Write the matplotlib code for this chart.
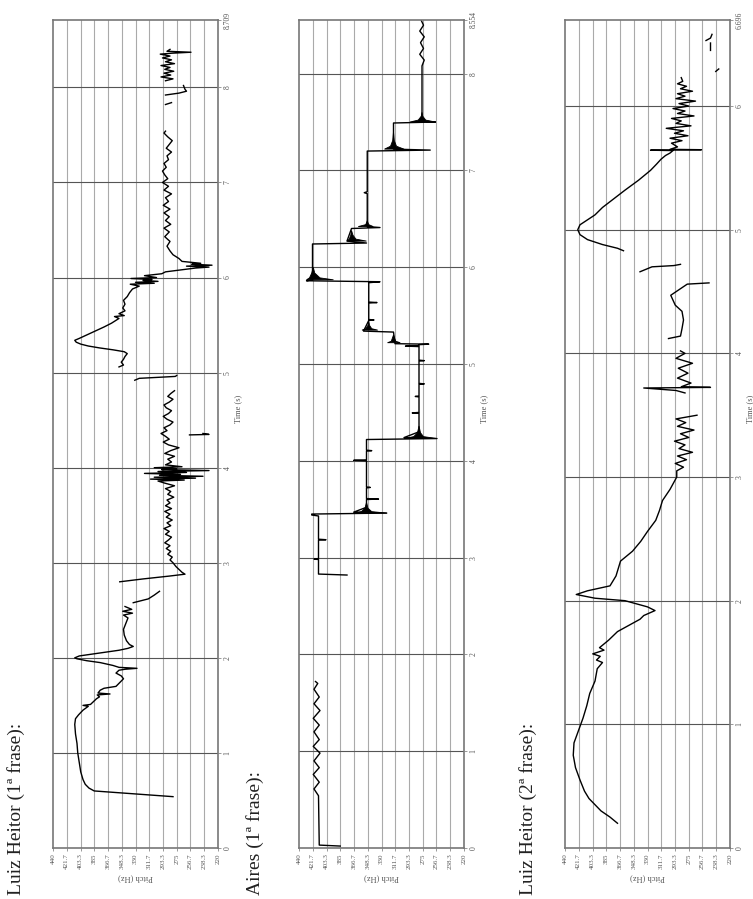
import matplotlib.pyplot as plt

plt.rcParams['font.family'] = ['Liberation Serif', 'DejaVu Serif']

nan = float('nan')

pitch_ticks = [440, 421.7, 403.3, 385, 366.7, 348.3, 330, 311.7, 293.3, 275,
               256.7, 238.3, 220]
pitch_labels = ['440', '421.7', '403.3', '385', '366.7', '348.3', '330',
                '311.7', '293.3', '275', '256.7', '238.3', '220']

titles = ['Luiz Heitor (1ª frase):', 'Aires (1ª frase):',
          'Luiz Heitor (2ª frase):']
durations = [8.709, 8.554, 6.696]

# Luiz Heitor, 1st phrase (time s, pitch Hz), nan = unvoiced gap
heitor1_t = [0.54, 0.56, 0.58, 0.60, 0.63, 0.67, 0.72, 0.80, 0.90, 1.00, 1.10,
             1.20, 1.30, 1.36, 1.40, 1.45, 1.49, 1.50, 1.51, 1.54, 1.57, 1.59,
             1.61, 1.62, 1.63, 1.66, 1.68, 1.70, 1.74, 1.78, 1.81, 1.84, 1.87,
             1.88, 1.89, 1.90, 1.92, 1.95, 1.97, 1.99, 2.00, 2.02, 2.05, 2.08,
             2.10, 2.12, 2.14, 2.18, 2.24, 2.30, 2.36, 2.42, 2.45, 2.47, 2.49,
             2.51, 2.54, nan,
             2.58, 2.62, 2.66, 2.70, nan,
             2.80, 2.83, 2.86, 2.88, 2.90, 2.93, 2.96, 3.00, 3.03, 3.06, 3.09,
             3.12, 3.15, 3.18, 3.21, 3.24, 3.27, 3.30, 3.33, 3.36, 3.39, 3.42,
             3.45, 3.48, 3.51, 3.54, 3.57, 3.60, 3.63, 3.66, 3.69, 3.72, 3.75,
             3.78, 3.81, 3.84, 3.86, 3.87, 3.88, 3.89, 3.90, 3.91, 3.92, 3.93,
             3.94, 3.95, 3.96, 3.97, 3.98, 3.99, 4.00, 4.01, 4.03, 4.06, 4.09,
             4.12, 4.15, 4.18, 4.21, 4.24, 4.27, 4.30, 4.33, 4.36, 4.39, 4.42,
             4.45, 4.48, 4.51, 4.54, 4.57, 4.60, 4.63, 4.66, 4.69, 4.72, 4.75,
             4.78, 4.81, nan,
             4.345, 4.35, 4.36, nan,
             4.92, 4.94, 4.95, 4.96, 4.97, nan,
             5.06, 5.08, 5.11, 5.14, 5.17, 5.20, 5.22, 5.24, 5.26, 5.28, 5.30,
             5.32, 5.34, 5.36, 5.40, 5.44, 5.48, 5.52, 5.55, 5.57, 5.59, 5.60,
             5.62, 5.65, 5.68, 5.72, 5.76, 5.80, 5.84, 5.88, 5.91, 5.93, 5.94,
             5.95, 5.96, 5.97, 5.98, 5.99, 6.00, 6.02, 6.04, 6.06, 6.08, 6.10,
             6.11, 6.12, 6.13, 6.14, 6.15, 6.17, 6.20, 6.24, 6.28, 6.33, 6.38,
             6.43, 6.48, 6.52, 6.56, 6.60, 6.64, 6.68, 6.72, 6.76, 6.80, 6.84,
             6.88, 6.92, 6.96, 7.00, 7.04, 7.08, 7.12, 7.16, 7.20, 7.24, 7.28,
             7.32, 7.36, 7.40, 7.44, 7.48, 7.52, 7.54, nan,
             7.82, 7.84, nan,
             7.92, 7.94, 7.96, 7.98, 8.02, nan,
             8.07, 8.09, 8.11, 8.13, 8.15, 8.17, 8.19, 8.21, 8.23, 8.25, 8.27,
             8.29, 8.31, 8.33, 8.35, 8.36, 8.37, 8.38, 8.40]
heitor1_hz = [280, 315, 350, 385, 392, 397, 400, 403, 405, 407, 408,
              410, 411, 410, 406, 400, 393, 400, 390, 386, 382, 378,
              381, 364, 380, 377, 372, 356, 351, 346, 349, 356, 352,
              344, 328, 352, 360, 377, 395, 408, 411, 405, 378, 352,
              340, 333, 338, 342, 345, 346, 343, 340, 346, 334, 347,
              335, 344, nan,
              333, 313, 305, 298, nan,
              351, 320, 285, 264, 268, 272, 276, 280, 284, 281, 287,
              283, 289, 284, 291, 286, 282, 290, 285, 292, 283, 288,
              281, 289, 284, 291, 282, 290, 284, 288, 279, 287, 283,
              290, 278, 292, 300, 265, 310, 250, 305, 240, 298, 270,
              318, 262, 300, 232, 295, 275, 305, 268, 290, 282, 287,
              278, 291, 283, 272, 286, 293, 285, 290, 296, 288, 292,
              284, 280, 288, 293, 286, 282, 289, 292, 285, 280, 287,
              283, 278, nan,
              258, 232, 240, nan,
              331, 325, 300, 277, 275, nan,
              352, 346, 349, 346, 344, 341, 345, 360, 378, 393, 403,
              409, 411, 405, 394, 383, 372, 362, 356, 352, 358, 345,
              352, 344, 347, 344, 346, 341, 338, 334, 325, 337, 305,
              330, 300, 320, 308, 336, 302, 318, 295, 290, 270, 250,
              232, 262, 228, 255, 243, 268, 272, 280, 284, 288, 284,
              291, 285, 292, 283, 290, 285, 292, 284, 293, 286, 290,
              282, 292, 286, 294, 287, 291, 294, 289, 292, 286, 288,
              282, 289, 285, 281, 287, 292, 290, nan,
              290, 282, nan,
              290, 272, 262, 264, 266, nan,
              290, 280, 296, 283, 292, 279, 291, 284, 296, 278, 290,
              282, 294, 284, 297, 281, 256, 288, 284]

# Aires, 1st phrase
aires_t = [0.02, 0.03, 0.54, 0.61, 0.68, 0.76, 0.83, 0.90, 0.98, 1.05, 1.12,
           1.20, 1.27, 1.34, 1.42, 1.49, 1.56, 1.64, 1.70, 1.72, nan,
           2.82, 2.83, 2.98, 2.985, 2.99, 3.18, 3.185, 3.19, 3.43, 3.44, 3.45,
           3.46, 3.47, 3.52, 3.60, 3.605, 3.61, 3.72, 3.725, 3.73, 4.00, 4.005,
           4.01, 4.10, 4.105, 4.11, 4.22, 4.23, 4.24, 4.30, 4.49, 4.495, 4.50,
           4.66, 4.665, 4.67, 4.79, 4.795, 4.80, 5.03, 5.035, 5.04, 5.18,
           5.185, 5.19, 5.20, 5.205, 5.21, 5.33, 5.34, 5.45, 5.455, 5.46,
           5.63, 5.635, 5.64, 5.84, 5.85, 5.86, 5.87, 6.24, 6.25, 6.27, 6.40,
           6.41, 6.42, 6.76, 6.77, 6.78, 7.20, 7.21, 7.22, 7.49, 7.50, 7.51,
           8.08, 8.14, 8.20, 8.26, 8.32, 8.38, 8.44, 8.50, 8.55]
aires_hz = [385, 413, 414, 420, 413, 421, 413, 420, 412, 421, 413,
            420, 413, 421, 412, 420, 413, 420, 415, 418, nan,
            376, 414, 414, 420, 414, 414, 404, 414, 414, 423, 423,
            323, 367, 350, 350, 334, 350, 350, 345, 350, 350, 367,
            350, 350, 343, 350, 350, 256, 300, 280, 280, 289, 280,
            280, 285, 280, 280, 273, 280, 280, 273, 280, 280,
            298, 280, 280, 267, 312, 314, 354, 347, 340, 347,
            347, 336, 347, 347, 332, 430, 422, 422, 350, 376, 370,
            332, 349, 349, 353, 349, 349, 265, 314, 314, 258, 276,
            276, 273, 279, 274, 278, 273, 279, 274, 277]

# decaying vibrato onsets drawn as filled wedges: (pitch, time) vertices
aires_blobs = [
    [(323, 3.46), (343, 3.475), (348, 3.51), (350, 3.57), (352, 3.51),
     (357, 3.475), (367, 3.46)],
    [(256, 4.23), (274, 4.25), (278, 4.29), (280, 4.36), (282, 4.29),
     (287, 4.25), (300, 4.23)],
    [(305, 5.22), (311, 5.235), (314, 5.30), (317, 5.235), (322, 5.22)],
    [(335, 5.35), (343, 5.365), (346, 5.40), (347, 5.45), (348, 5.40),
     (351, 5.365), (356, 5.35)],
    [(394, 5.87), (412, 5.89), (419, 5.94), (421, 6.00), (423, 5.94),
     (426, 5.89), (430, 5.87)],
    [(350, 6.27), (364, 6.29), (368, 6.33), (370, 6.38), (371, 6.33),
     (373, 6.29), (376, 6.27)],
    [(341, 6.42), (347, 6.44), (349, 6.48), (351, 6.44), (361, 6.42)],
    [(300, 7.22), (310, 7.25), (313, 7.31), (314, 7.40), (315, 7.31),
     (318, 7.25), (326, 7.22)],
    [(258, 7.50), (271, 7.52), (275, 7.56), (276, 7.60), (277, 7.56),
     (281, 7.52), (292, 7.50)],
]

# Luiz Heitor, 2nd phrase
heitor2_t = [0.20, 0.25, 0.30, 0.35, 0.40, 0.46, 0.55, 0.65, 0.75, 0.85, 0.95,
             1.05, 1.15, 1.25, 1.35, 1.45, 1.50, 1.52, 1.55, 1.57, 1.60, 1.62,
             1.68, 1.75, 1.80, 1.85, 1.88, 1.92, 1.95, 2.00, 2.02, 2.05, 2.08,
             2.12, 2.20, 2.32, 2.40, 2.48, 2.56, 2.65, 2.73, 2.81, 2.90, 3.00,
             3.05, 3.08, 3.11, 3.14, 3.17, 3.20, 3.23, 3.26, 3.29, 3.32, 3.35,
             3.38, 3.41, 3.44, 3.47, 3.50, nan,
             3.68, 3.70, 3.72, 3.725, 3.73, 3.76, 3.80, 3.84, 3.88, 3.92, 3.96,
             4.00, 4.02, nan,
             4.12, 4.14, 4.20, 4.27, 4.34, 4.39, 4.47, 4.56, 4.57, nan,
             4.66, 4.70, 4.71, 4.72, nan,
             4.83, 4.85, 4.88, 4.92, 4.96, 5.00, 5.04, 5.08, 5.12, 5.18, 5.25,
             5.32, 5.40, 5.48, 5.53, 5.57, 5.60, 5.62, 5.64, 5.643, 5.647,
             5.65, 5.67, 5.70, 5.72, 5.74, 5.76, 5.78, 5.80, 5.82, 5.84, 5.86,
             5.88, 5.90, 5.92, 5.94, 5.96, 5.98, 6.00, 6.02, 6.04, 6.06, 6.08,
             6.10, 6.12, 6.14, 6.16, 6.18, 6.20, 6.23, nan,
             6.28, 6.30, nan,
             6.45, 6.51, nan,
             6.53, 6.55, 6.58]
heitor2_hz = [370, 380, 392, 400, 408, 414, 420, 426, 429, 428, 422,
              416, 411, 407, 400, 397, 390, 398, 393, 403, 388, 394,
              382, 370, 355, 340, 335, 320, 330, 360, 400, 425, 410,
              380, 372, 366, 350, 339, 330, 319, 314, 310, 300, 291,
              291, 282, 293, 278, 290, 270, 288, 280, 294, 275, 286,
              268, 290, 279, 292, 264, nan,
              280, 292, 335, 246, 285, 272, 290, 276, 289, 270, 292,
              280, 286, nan,
              302, 286, 284, 282, 284, 293, 299, 277, 248, nan,
              340, 324, 295, 286, nan,
              362, 370, 390, 410, 420, 423, 420, 410, 400, 390, 375,
              360, 342, 326, 318, 312, 306, 300, 296, 326, 258,
              300, 290, 298, 284, 300, 276, 294, 282, 305, 272, 292,
              285, 298, 268, 290, 280, 296, 275, 288, 266, 292, 280,
              290, 270, 286, 278, 290, 283, 285, nan,
              239, 235, nan,
              246, 246, nan,
              252, 246, 244]

tracks = [(heitor1_t, heitor1_hz), (aires_t, aires_hz),
          (heitor2_t, heitor2_hz)]
blobs = [[], aires_blobs, []]

fig = plt.figure(figsize=(7.53, 8.99), dpi=100)
W, H = 753, 899
lefts = [53, 299, 565]
for i in range(3):
    ax = fig.add_axes([lefts[i] / W, (H - 848) / H, 165 / W, (848 - 20) / H])
    t, hz = tracks[i]
    ax.plot(hz, t, color='black', lw=1.0)
    for b in blobs[i]:
        ax.fill([v[0] for v in b], [v[1] for v in b], color='black', lw=0.6)

    dur = durations[i]
    ax.set_xlim(440, 220)
    ax.set_ylim(0, dur)
    ax.set_xticks(pitch_ticks)
    ax.set_xticklabels(pitch_labels, rotation=90, fontsize=5, color='#555555')
    yt = list(range(int(dur) + 1)) + [dur]
    ax.set_yticks(yt)
    ax.set_yticklabels([str(v) for v in yt[:-1]] + ['%.3f' % dur],
                       rotation=90, va='center', fontsize=5.5, color='#555555')
    ax.yaxis.tick_right()
    ax.tick_params(axis='both', length=2, width=0.6, color='#888888', pad=2)
    ax.yaxis.set_label_position('right')
    ax.set_ylabel('Time (s)', rotation=90, fontsize=6, color='#555555')
    ax.yaxis.set_label_coords(1.1, 0.53)
    ax.set_xlabel('Pitch (Hz)', rotation=180, fontsize=6, color='#555555',
                  labelpad=3)
    for p in pitch_ticks[1:-1]:
        ax.axvline(p, color='#aaaaaa', lw=0.8, zorder=0)
    for s in range(1, int(dur) + 1):
        ax.axhline(s, color='#555555', lw=0.8, zorder=0)
    for sp in ax.spines.values():
        sp.set_color('#777777')
        sp.set_linewidth(1.2)

title_x = [16, 255, 528]
for i in range(3):
    fig.text(title_x[i] / W, 4 / H, titles[i], rotation=90, ha='center',
             va='bottom', fontsize=14, color='#222222')

fig.savefig('out.png', dpi=100)
